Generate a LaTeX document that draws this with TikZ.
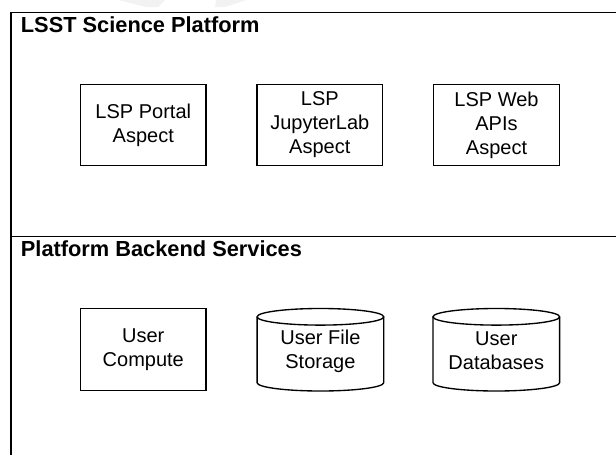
\documentclass[tikz,border=0pt]{standalone}
\usepackage{fontspec}
\setmainfont{Liberation Sans}
\newcommand\mydbcyl[1]{%
  \draw[cyl] (#1,316.8) ellipse[x radius=63.3,y radius=8.3];
  \draw[cyl] ({#1-63.3},316.8) -- ({#1-63.3},382.7)
     arc[start angle=180,end angle=0,x radius=63.3,y radius=8.3]
     -- ({#1+63.3},316.8);}
\begin{document}
\begin{tikzpicture}[x=1pt,y=-1pt,
  frame/.style={line width=1.5pt},
  box/.style={draw, line width=1.35pt, minimum width=125.5pt, minimum height=81.5pt,
              inner sep=0pt, align=center, font=\fontsize{20}{24}\selectfont},
  cyl/.style={line width=1.35pt},
  lbl/.style={align=center, inner sep=0pt, font=\fontsize{20}{24}\selectfont},
  paneltitle/.style={anchor=base west, inner sep=0pt, font=\bfseries\fontsize{21.8}{26}\selectfont},
  wm/.style={fill=black!5, draw=none}]
\useasboundingbox (0,0) rectangle (616,455);
% faint watermark remnants
\fill[wm] (118,0) -- (165,0) -- (158,7) -- (146,7) -- cycle;
\fill[wm] (216,0) -- (247,0) -- (225,7) -- (215,7) -- cycle;
% panel frame
\draw[frame] (620,12.3) -- (11,12.3) -- (11,460);
\draw[frame] (11,236.7) -- (620,236.7);
% titles
\node[paneltitle] (t1) at (20.7,32.3) {LSST Science Platform};
\node[paneltitle] (t2) at (20.7,256.7) {Platform Backend Services};
% upper boxes
\node[box] (portal) at (143.3,125) {LSP Portal\\Aspect};
\node[box] (jupyter) at (319.8,125) {LSP\\JupyterLab\\Aspect};
\node[box] (webapi) at (496.5,125) {LSP Web\\APIs\\Aspect};
% lower
\node[box] (compute) at (143.3,349.5) {User\\Compute};
\mydbcyl{320.4}
\mydbcyl{496.3}
\node[lbl] (files) at (320.4,351) {User File\\Storage};
\node[lbl] (dbs) at (496.3,351) {User\\Databases};
\end{tikzpicture}
\end{document}
